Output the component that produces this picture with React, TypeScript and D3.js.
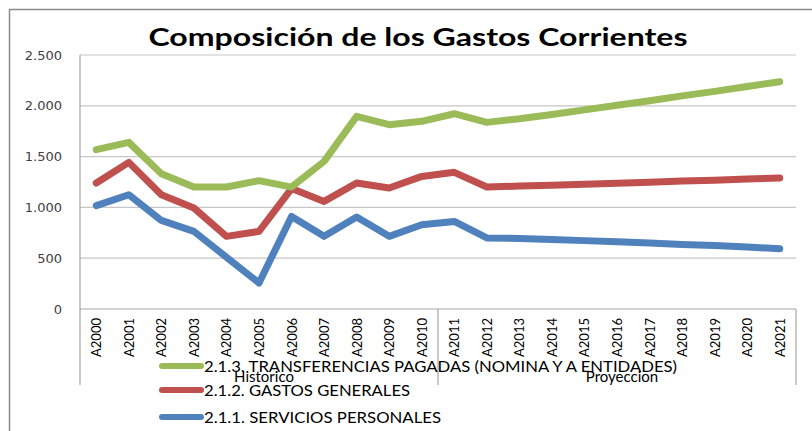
import { useEffect, useRef } from 'react'
import * as d3 from 'd3'

const WIDTH = 812
const HEIGHT = 431
const MARGIN = { top: 55, right: 16, bottom: 122, left: 80 }
const GRID_COLOR = '#c6c6c6'
const AXIS_COLOR = '#a6a6a6'
const TEXT_FONT = 'Lato, "Open Sans", sans-serif'

const categories = [
  'A2000', 'A2001', 'A2002', 'A2003', 'A2004', 'A2005', 'A2006', 'A2007',
  'A2008', 'A2009', 'A2010', 'A2011', 'A2012', 'A2013', 'A2014', 'A2015',
  'A2016', 'A2017', 'A2018', 'A2019', 'A2020', 'A2021',
]

const groups = [
  { label: 'Historico', from: 'A2000', to: 'A2010' },
  { label: 'Proyeccion', from: 'A2011', to: 'A2021' },
]

const transferencias = [
  1568, 1640, 1332, 1201, 1201, 1263, 1200, 1453, 1896, 1814, 1847,
  1922, 1837, 1872, 1915, 1960, 2005, 2050, 2098, 2142, 2190, 2237,
]
const gastosGenerales = [
  1240, 1443, 1125, 994, 715, 764, 1185, 1059, 1240, 1191, 1305,
  1345, 1201, 1210, 1218, 1228, 1237, 1248, 1260, 1268, 1280, 1290,
]
const serviciosPersonales = [
  1017, 1125, 872, 764, 510, 256, 911, 715, 905, 715, 830,
  862, 700, 695, 685, 673, 662, 650, 635, 625, 610, 593,
]

const yTicks = [0, 500, 1000, 1500, 2000, 2500]

const series = [
  { name: '2.1.3. TRANSFERENCIAS PAGADAS (NOMINA Y A ENTIDADES)', values: transferencias, color: '#9bbb59' },
  { name: '2.1.2. GASTOS GENERALES', values: gastosGenerales, color: '#c0504d' },
  { name: '2.1.1.  SERVICIOS PERSONALES', values: serviciosPersonales, color: '#4f81bd' },
]

const legendLengths = [473, 206, 237]

export default function App() {
  const ref = useRef<SVGSVGElement>(null)

  useEffect(() => {
    const svgEl = ref.current
    if (!svgEl) return
    const svg = d3.select(svgEl)
    svg.selectAll('*').remove()

    const innerWidth = WIDTH - MARGIN.left - MARGIN.right
    const innerHeight = HEIGHT - MARGIN.top - MARGIN.bottom

    // outer chart frame (only top and left edges are visible)
    svg.append('path')
      .attr('d', `M9.5,${HEIGHT} V9.5 H${WIDTH}`)
      .attr('fill', 'none')
      .attr('stroke', '#8a8a8a')
      .attr('stroke-width', 1.5)

    svg.append('text')
      .attr('x', 418)
      .attr('y', 46)
      .attr('text-anchor', 'middle')
      .attr('font-family', 'Lato, "Open Sans", sans-serif')
      .attr('font-weight', 'bold')
      .attr('font-size', 25)
      .attr('textLength', 539)
      .attr('lengthAdjust', 'spacingAndGlyphs')
      .attr('fill', '#000')
      .text('Composición de los Gastos Corrientes')

    const g = svg.append('g').attr('transform', `translate(${MARGIN.left},${MARGIN.top})`)

    const x = d3.scaleBand<string>().domain(categories).range([0, innerWidth])
    const y = d3.scaleLinear().domain([0, 2500]).range([innerHeight, 0])
    const cx = (c: string) => (x(c) ?? 0) + x.bandwidth() / 2

    // gridlines
    g.append('g')
      .selectAll('line')
      .data(yTicks.filter((t) => t > 0))
      .join('line')
      .attr('x1', 0)
      .attr('x2', innerWidth)
      .attr('y1', (d) => y(d))
      .attr('y2', (d) => y(d))
      .attr('stroke', GRID_COLOR)
      .attr('stroke-width', 1.2)

    const yAxis = d3.axisLeft(y).tickValues(yTicks).tickSize(0).tickPadding(18)
      .tickFormat((d) => d3.format(',')(Number(d)).replace(/,/g, '.'))
    g.append('g')
      .call(yAxis)
      .call((sel) => sel.select('.domain').remove())
      .call((sel) => sel.selectAll('.tick text')
        .attr('font-family', '"DejaVu Sans", sans-serif')
        .attr('font-size', 13)
        .attr('fill', '#404040'))

    // category box with axis lines
    const boxBottom = innerHeight + 76
    const axisLines = [
      { x1: 0, y1: 0, x2: 0, y2: boxBottom },
      { x1: 0, y1: innerHeight, x2: innerWidth, y2: innerHeight },
      { x1: innerWidth, y1: innerHeight, x2: innerWidth, y2: boxBottom },
      { x1: x('A2011') ?? 0, y1: innerHeight, x2: x('A2011') ?? 0, y2: boxBottom },
    ]
    g.append('g')
      .selectAll('line')
      .data(axisLines)
      .join('line')
      .attr('x1', (d) => d.x1)
      .attr('y1', (d) => d.y1)
      .attr('x2', (d) => d.x2)
      .attr('y2', (d) => d.y2)
      .attr('stroke', AXIS_COLOR)
      .attr('stroke-width', 1.2)

    g.append('g')
      .selectAll('text')
      .data(categories)
      .join('text')
      .attr('transform', (d) => `translate(${cx(d) + 5},${innerHeight + 9}) rotate(-90)`)
      .attr('text-anchor', 'end')
      .attr('font-family', TEXT_FONT)
      .attr('font-size', 14)
      .attr('textLength', 39)
      .attr('lengthAdjust', 'spacingAndGlyphs')
      .attr('fill', '#000')
      .text((d) => d)

    g.append('g')
      .selectAll('text')
      .data(groups)
      .join('text')
      .attr('x', (d) => ((x(d.from) ?? 0) + (x(d.to) ?? 0) + x.bandwidth()) / 2 + 5)
      .attr('y', innerHeight + 73)
      .attr('text-anchor', 'middle')
      .attr('font-family', TEXT_FONT)
      .attr('font-size', 15)
      .attr('fill', '#000')
      .text((d) => d.label)

    // series lines, drawn back to front
    const line = d3.line<number>()
      .x((_, i) => cx(categories[i]))
      .y((d) => y(d))

    g.append('g')
      .selectAll('path')
      .data([...series].reverse())
      .join('path')
      .attr('d', (d) => line(d.values))
      .attr('fill', 'none')
      .attr('stroke', (d) => d.color)
      .attr('stroke-width', 7)
      .attr('stroke-linejoin', 'round')
      .attr('stroke-linecap', 'round')

    // legend
    const legendY = [366, 390, 417]
    const legend = svg.append('g')
      .selectAll('g')
      .data(series)
      .join('g')
      .attr('transform', (_, i) => `translate(160,${legendY[i]})`)
    legend.append('line')
      .attr('x1', 2)
      .attr('x2', 41)
      .attr('stroke', (d) => d.color)
      .attr('stroke-width', 6)
      .attr('stroke-linecap', 'round')
    legend.append('text')
      .attr('x', 44)
      .attr('y', 5.5)
      .attr('font-family', TEXT_FONT)
      .attr('font-size', 15)
      .attr('textLength', (_, i) => legendLengths[i])
      .attr('lengthAdjust', 'spacingAndGlyphs')
      .attr('fill', '#000')
      .text((d) => d.name)
  }, [])

  return (
    <div style={{ position: 'fixed', left: 0, top: 0, width: WIDTH, height: HEIGHT, background: '#fff' }}>
      <svg ref={ref} width={WIDTH} height={HEIGHT} />
    </div>
  )
}
